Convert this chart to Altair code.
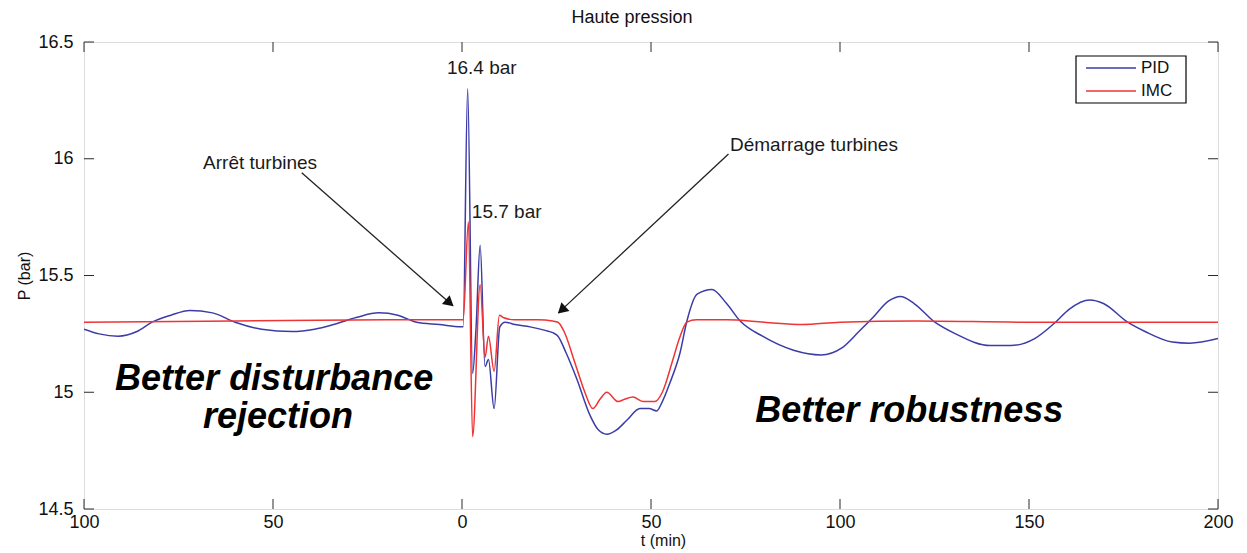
import altair as alt
import pandas as pd

# ---------------- data ----------------
series_names = ["PID", "IMC"]
series_colors = ["#3c3ca8", "#ee3434"]

pid_t = [-100, -96, -91, -86, -82, -77, -72, -66, -60, -53, -45, -39, -34, -28, -22, -17, -12, -6, -0.3,
         0.3, 1.5, 2.8, 3.7, 4.8, 6.1, 7.0, 8.5, 10.0, 11.4,
         14, 18, 22, 24, 25.4, 27.5, 30.3, 33.9, 36, 38.3, 41, 43.6, 47.1, 49.5, 51.5, 53, 55, 57.7,
         59.5, 62.2, 66.1, 70.0, 73.6, 79.5, 87.7, 95.0, 100.5, 105.0, 108.7, 112.8, 116.0, 119.6,
         125.1, 130.6, 139.7, 145.1, 151.5, 157.0, 160.6, 166.1, 169.7, 176.1, 180.7, 187.9, 192.5, 200]
pid_p = [15.27, 15.25, 15.24, 15.26, 15.30, 15.33, 15.35, 15.34, 15.30, 15.27, 15.26, 15.27, 15.29, 15.32, 15.34, 15.33, 15.30, 15.29, 15.28,
         15.28, 16.30, 15.08, 15.27, 15.63, 15.11, 15.14, 14.93, 15.28, 15.30,
         15.29, 15.28, 15.265, 15.255, 15.24, 15.17, 15.06, 14.90, 14.84, 14.82, 14.84, 14.88, 14.93, 14.93, 14.92, 14.96, 15.04, 15.17,
         15.305, 15.42, 15.44, 15.38, 15.305, 15.24, 15.18, 15.16, 15.19, 15.26, 15.32, 15.39, 15.41, 15.38,
         15.30, 15.25, 15.20, 15.20, 15.23, 15.30, 15.355, 15.395, 15.38, 15.30, 15.26, 15.215, 15.21, 15.23]

imc_t = [-100, -60, -20, -0.3,
         0.3, 1.7, 2.8, 4.8, 6.1, 7.0, 8.5, 9.9, 10.9,
         14, 20, 24, 25.4, 27, 30, 32.5, 34.6, 36.5, 38.3, 41.3, 43, 45.2, 48, 51, 53, 55.8, 57.5, 59.5,
         62, 70, 80, 90, 100, 120, 150, 200]
imc_p = [15.30, 15.305, 15.31, 15.31,
         15.31, 15.73, 14.81, 15.46, 15.15, 15.24, 15.09, 15.33, 15.32,
         15.31, 15.31, 15.305, 15.30, 15.26, 15.12, 15.00, 14.93, 14.97, 15.00, 14.96, 14.97, 14.98, 14.96, 14.96, 15.00, 15.14, 15.23, 15.30,
         15.31, 15.31, 15.30, 15.29, 15.30, 15.305, 15.30, 15.30]

x_ticks = [-100, -50, 0, 50, 100, 150, 200]
y_ticks = [14.5, 15.0, 15.5, 16.0, 16.5]

# annotations
ann_text = ["16.4 bar", "15.7 bar", "Arrêt turbines", "Démarrage turbines"]
ann_x = [-4.0, 2.6, -68.5, 70.9]
ann_y = [16.39, 15.77, 15.983, 16.06]

big_text = ["Better disturbance", "rejection", "Better robustness"]
big_x = [-49.7, -48.7, 118.3]
big_y = [15.056, 14.893, 14.919]

arrow_x1 = [-42.4, 70.5]
arrow_y1 = [15.94, 16.02]
arrow_x2 = [-2.4, 25.5]
arrow_y2 = [15.37, 15.34]
head_x = [-3.6, 26.7]
head_y = [15.387, 15.357]
head_angle = [131, 227]

# ---------------- chart ----------------
W, H = 1134, 467
FONT = "Liberation Sans"
AX = "#2a2a2a"

df = pd.concat([
    pd.DataFrame({"t": pid_t, "p": pid_p, "s": "PID"}),
    pd.DataFrame({"t": imc_t, "p": imc_p, "s": "IMC"}),
], ignore_index=True)

xs = alt.Scale(domain=[-100, 200], nice=False, zero=False)
ys = alt.Scale(domain=[14.5, 16.5], nice=False, zero=False)

x_axis = alt.Axis(values=x_ticks, labelExpr="format(abs(datum.value), 'd')", title="t (min)",
                  ticks=False, grid=False, domain=False, labelPadding=4, titlePadding=1,
                  titleX=579,
                  labelFont=FONT, labelFontSize=18, labelColor="#111", titleFont=FONT,
                  titleFontSize=16, titleFontWeight="normal", titleColor="#111", labelFlush=False)
y_axis = alt.Axis(values=y_ticks, format=".1~f", title="P (bar)", ticks=False, grid=False,
                  domain=False, labelPadding=11, titlePadding=5, labelFont=FONT, labelFontSize=18,
                  labelColor="#111", titleFont=FONT, titleFontSize=16, titleFontWeight="normal",
                  titleColor="#111", labelFlush=False)

cscale = alt.Scale(domain=series_names, range=series_colors)

lines = alt.Chart(df).mark_line(strokeWidth=1.5, interpolate="monotone", clip=True).encode(
    x=alt.X("t:Q", scale=xs, axis=x_axis),
    y=alt.Y("p:Q", scale=ys, axis=y_axis),
    color=alt.Color("s:N", scale=cscale, legend=None),
)

# inward tick marks (MATLAB style)
xt = pd.DataFrame({"v": x_ticks})
yt = pd.DataFrame({"v": y_ticks})
tick_len = 10
xb = alt.Chart(xt).mark_rule(color=AX, strokeWidth=1).encode(
    x=alt.X("v:Q", scale=xs), y=alt.value(H - tick_len), y2=alt.value(H))
xtop = alt.Chart(xt).mark_rule(color=AX, strokeWidth=1).encode(
    x=alt.X("v:Q", scale=xs), y=alt.value(0), y2=alt.value(tick_len))
yl = alt.Chart(yt).mark_rule(color=AX, strokeWidth=1).encode(
    y=alt.Y("v:Q", scale=ys), x=alt.value(0), x2=alt.value(tick_len))
yr = alt.Chart(yt).mark_rule(color=AX, strokeWidth=1).encode(
    y=alt.Y("v:Q", scale=ys), x=alt.value(W - tick_len), x2=alt.value(W))

ann_df = pd.DataFrame({"x": ann_x, "y": ann_y, "txt": ann_text})
ann = alt.Chart(ann_df).mark_text(align="left", baseline="middle", font=FONT, fontSize=19,
                                  color="#1a1a1a").encode(
    x=alt.X("x:Q", scale=xs), y=alt.Y("y:Q", scale=ys), text="txt:N")

big_df = pd.DataFrame({"x": big_x, "y": big_y, "txt": big_text})
big = alt.Chart(big_df).mark_text(align="center", baseline="middle", font=FONT, fontSize=36,
                                  fontWeight="bold", fontStyle="italic", color="black").encode(
    x=alt.X("x:Q", scale=xs), y=alt.Y("y:Q", scale=ys), text="txt:N")

arr_df = pd.DataFrame({"x1": arrow_x1, "y1": arrow_y1, "x2": arrow_x2, "y2": arrow_y2})
arrows = alt.Chart(arr_df).mark_rule(color="#222", strokeWidth=1.3).encode(
    x=alt.X("x1:Q", scale=xs), y=alt.Y("y1:Q", scale=ys), x2="x2:Q", y2="y2:Q")

head_df = pd.DataFrame({"x": head_x, "y": head_y, "a": head_angle})
heads = alt.Chart(head_df).mark_point(shape="triangle", filled=True, color="#111", size=140,
                                      opacity=1).encode(
    x=alt.X("x:Q", scale=xs), y=alt.Y("y:Q", scale=ys),
    angle=alt.Angle("a:Q", scale=None))

# legend box drawn in the corner (MATLAB style)
leg_df = pd.DataFrame({"s": series_names})
leg_box = alt.Chart(leg_df.head(1)).mark_rect(fill="white", stroke="black", strokeWidth=1.2).encode(
    x=alt.value(992), x2=alt.value(1102), y=alt.value(14), y2=alt.value(61))
leg_layers = [leg_box]
for i, name in enumerate(series_names):
    row = leg_df[leg_df["s"] == name]
    leg_layers.append(alt.Chart(row).mark_rule(strokeWidth=1.5).encode(
        x=alt.value(1002), x2=alt.value(1052), y=alt.value(26 + 23 * i),
        color=alt.Color("s:N", scale=cscale, legend=None)))
    leg_layers.append(alt.Chart(row).mark_text(align="left", baseline="middle", font=FONT,
                                               fontSize=17, color="#111").encode(
        x=alt.value(1057), y=alt.value(26 + 23 * i), text="s:N"))

chart = alt.layer(lines, xb, xtop, yl, yr, arrows, heads, ann, big, *leg_layers).properties(
    width=W, height=H,
    title=alt.TitleParams("Haute pression", font=FONT, fontSize=18, fontWeight="normal",
                          color="#111", anchor="middle", offset=6, dx=-19),
    autosize=alt.AutoSizeParams(type="none"),
    padding={"left": 76, "top": 34, "right": 20, "bottom": 42},
).configure_view(stroke=AX, strokeWidth=1.2).configure(background="white")

chart.save("out.html", embed_options={"renderer": "svg", "actions": False})
